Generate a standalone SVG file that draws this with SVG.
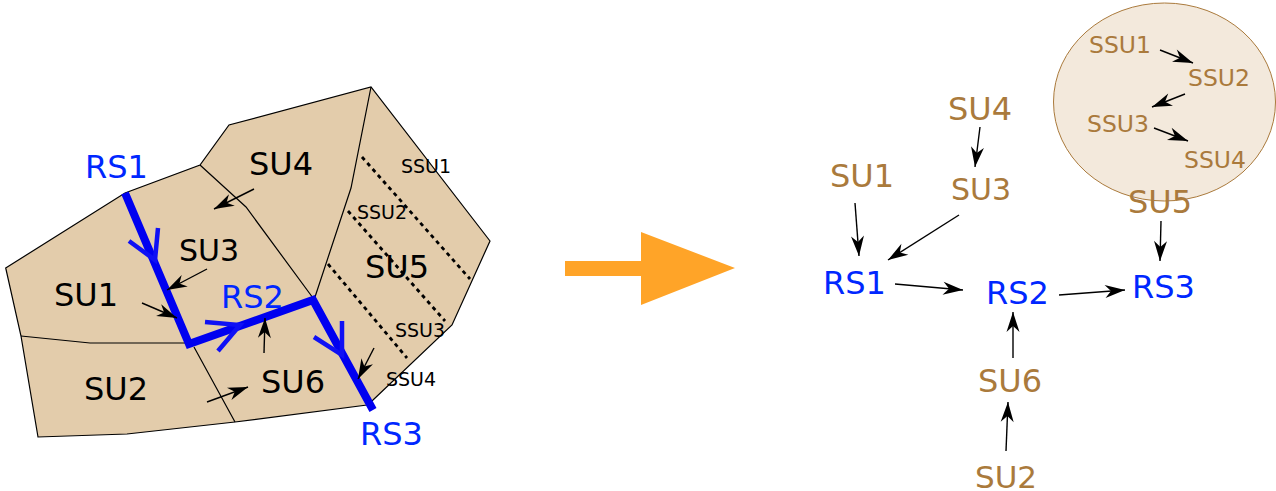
<svg xmlns="http://www.w3.org/2000/svg" width="1276" height="491" viewBox="0 0 1276 491">
<style>
text{font-family:"DejaVu Sans",sans-serif;font-size:32px}
.k{fill:#000}.b{fill:#0027ff}.t{fill:#aa7a3c}
.s{font-size:19px}.m{font-size:23.5px}
.e{fill:none;stroke:#000;stroke-width:1.2}
.a{fill:none;stroke:#000;stroke-width:1.4;marker-end:url(#h)}
.r{fill:none;stroke:#0000f0;stroke-width:8}
.v{fill:none;stroke:#0f10f5;stroke-width:4.5}
.d{fill:none;stroke:#000;stroke-width:2.8;stroke-dasharray:4 4}
</style>
<defs>
<marker id="h" markerUnits="userSpaceOnUse" markerWidth="24" markerHeight="18" refX="20" refY="9" orient="auto" overflow="visible">
<path d="M20,9L0,2.5L6,9L0,15.5Z" fill="#000"/>
</marker>
</defs>
<g id="region">
<path d="M5.7,268L125,193L200,165L229,125L371,87L490,241L452,325L373,400L367,405L235,422L127,434L38,437L21,336Z" fill="#e3ccab" stroke="#000" stroke-width="1.2"/>
<path class="e" d="M21,336L90,343L190,343M200,165L246,207L313,298M315,297L351,188L371,87M194,347L235,422"/>
<path class="d" d="M362,157L470,279M348,211L445,321M328,264L407,358"/>
</g>
<g id="reach-path">
<path class="r" d="M125,193L189,344L313,300L373,410"/>
<path class="v" d="M129,241L155,260L158,228M205,322L240,325L218,351M314,337L342,355L342,321"/>
</g>
<g id="map-labels">
<text class="b" x="85" y="178">RS1</text>
<text class="b" x="221" y="308">RS2</text>
<text class="b" x="360" y="445">RS3</text>
<text class="k" x="249" y="175">SU4</text>
<text class="k" x="179" y="261" style="font-size:30px">SU3</text>
<text class="k" x="54" y="306">SU1</text>
<text class="k" x="84" y="400">SU2</text>
<text class="k" x="365" y="278">SU5</text>
<text class="k" x="261" y="393">SU6</text>
<text class="k s" x="401" y="173">SSU1</text>
<text class="k s" x="357" y="219">SSU2</text>
<text class="k s" x="395" y="337">SSU3</text>
<text class="k s" x="386" y="386">SSU4</text>
</g>
<g id="transition-arrow" fill="#ffa428">
<path d="M565,261H641V232L735,268L641,305V276H565Z"/>
</g>
<g id="su5-detail"><ellipse cx="1164.5" cy="102" rx="111" ry="99" fill="#f3e9dc" stroke="#aa7a3c" stroke-width="1"/></g>
<g id="connectors">
<path class="a" d="M254,189L214,209"/>
<path class="a" d="M207,269L167,290"/>
<path class="a" d="M142,303L177,318"/>
<path class="a" d="M264,353L265,318"/>
<path class="a" d="M207,402L248,387"/>
<path class="a" d="M374,348L358,379"/>
<path class="a" d="M855,203L859,256"/>
<path class="a" d="M980,127L975,167"/>
<path class="a" d="M959,215L888,260"/>
<path class="a" d="M895,284L963,290"/>
<path class="a" d="M1059,295L1125,290"/>
<path class="a" d="M1161,221L1160,261"/>
<path class="a" d="M1013,358L1013,312"/>
<path class="a" d="M1006,451L1008,402"/>
<path class="a" d="M1160,50L1193,63"/>
<path class="a" d="M1185,94L1152,107"/>
<path class="a" d="M1154,128L1188,141"/>
</g>
<g id="node-su1"><text class="t" x="830" y="187">SU1</text></g>
<g id="node-su2"><text class="t" x="975" y="488" style="font-size:31px">SU2</text></g>
<g id="node-su3"><text class="t" x="951" y="200" style="font-size:30px">SU3</text></g>
<g id="node-su4"><text class="t" x="948" y="120">SU4</text></g>
<g id="node-su5"><text class="t" x="1128" y="213">SU5</text></g>
<g id="node-su6"><text class="t" x="978" y="392">SU6</text></g>
<g id="node-rs1"><text class="b" x="823" y="294">RS1</text></g>
<g id="node-rs2"><text class="b" x="986" y="304">RS2</text></g>
<g id="node-rs3"><text class="b" x="1132" y="298">RS3</text></g>
<g id="node-ssu1"><text class="t m" x="1089" y="53">SSU1</text></g>
<g id="node-ssu2"><text class="t m" x="1188" y="86">SSU2</text></g>
<g id="node-ssu3"><text class="t m" x="1087" y="132">SSU3</text></g>
<g id="node-ssu4"><text class="t m" x="1184" y="168">SSU4</text></g>
</svg>
